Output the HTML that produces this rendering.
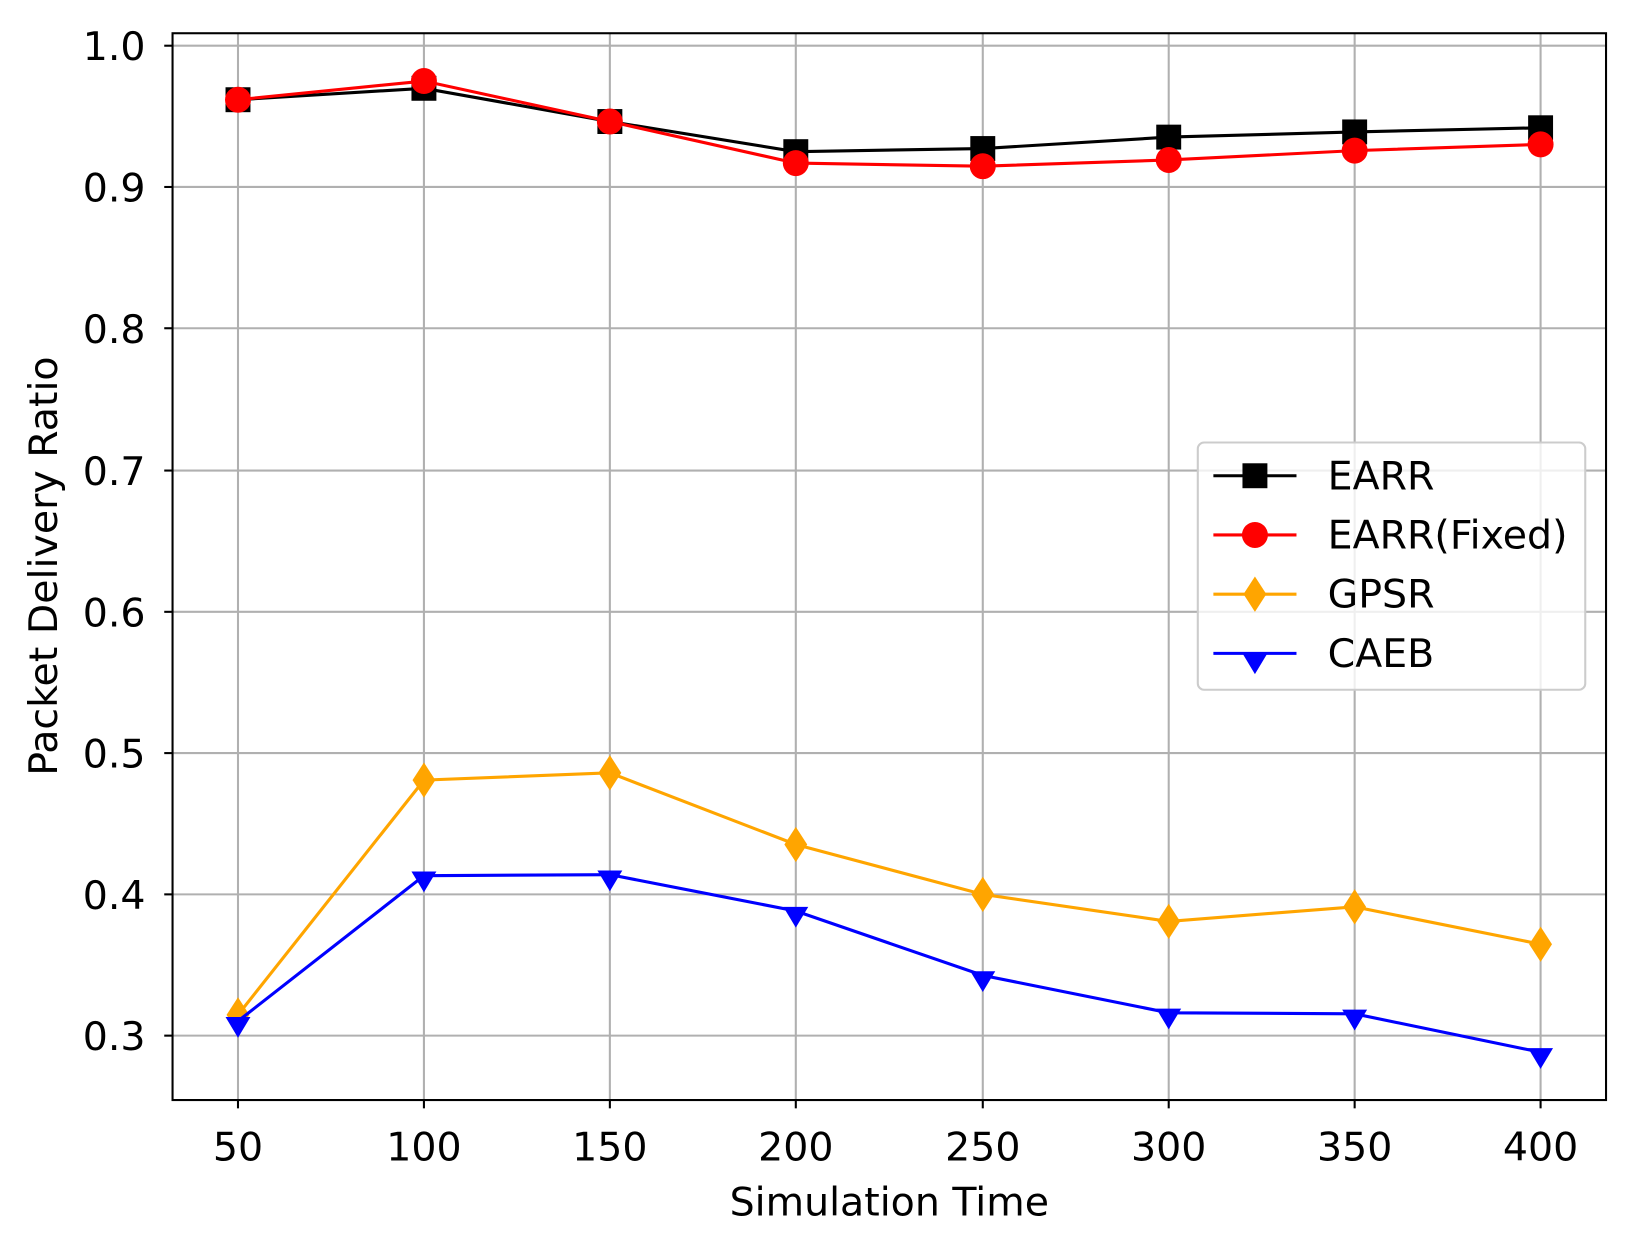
<!DOCTYPE html>
<html><head><style>html,body{margin:0;padding:0;background:#fff}svg{display:block}</style></head>
<body>
<svg width="1629" height="1233" viewBox="0 0 1568 1187" xmlns="http://www.w3.org/2000/svg" font-family="'DejaVu Sans','Liberation Sans',sans-serif">
<rect width="1568" height="1187" fill="#fff"/>
<g stroke="#b0b0b0" stroke-width="2">
<line x1="229" y1="32" x2="229" y2="1059"/><line x1="408" y1="32" x2="408" y2="1059"/><line x1="587" y1="32" x2="587" y2="1059"/><line x1="766" y1="32" x2="766" y2="1059"/><line x1="946" y1="32" x2="946" y2="1059"/><line x1="1125" y1="32" x2="1125" y2="1059"/><line x1="1304" y1="32" x2="1304" y2="1059"/><line x1="1483" y1="32" x2="1483" y2="1059"/>
<line x1="166" y1="44" x2="1546" y2="44"/><line x1="166" y1="180" x2="1546" y2="180"/><line x1="166" y1="316" x2="1546" y2="316"/><line x1="166" y1="453" x2="1546" y2="453"/><line x1="166" y1="589" x2="1546" y2="589"/><line x1="166" y1="725" x2="1546" y2="725"/><line x1="166" y1="861" x2="1546" y2="861"/><line x1="166" y1="997" x2="1546" y2="997"/>
</g>
<rect x="166" y="32" width="1380" height="1027" fill="none" stroke="#000" stroke-width="2"/>
<g stroke="#000" stroke-width="2">
<line x1="229" y1="1059" x2="229" y2="1067"/><line x1="408" y1="1059" x2="408" y2="1067"/><line x1="587" y1="1059" x2="587" y2="1067"/><line x1="766" y1="1059" x2="766" y2="1067"/><line x1="946" y1="1059" x2="946" y2="1067"/><line x1="1125" y1="1059" x2="1125" y2="1067"/><line x1="1304" y1="1059" x2="1304" y2="1067"/><line x1="1483" y1="1059" x2="1483" y2="1067"/>
<line x1="158" y1="44" x2="166" y2="44"/><line x1="158" y1="180" x2="166" y2="180"/><line x1="158" y1="316" x2="166" y2="316"/><line x1="158" y1="453" x2="166" y2="453"/><line x1="158" y1="589" x2="166" y2="589"/><line x1="158" y1="725" x2="166" y2="725"/><line x1="158" y1="861" x2="166" y2="861"/><line x1="158" y1="997" x2="166" y2="997"/>
</g>
<g font-size="38" fill="#000" text-anchor="middle">
<text x="229" y="1117">50</text><text x="408" y="1117">100</text><text x="587" y="1117">150</text><text x="766" y="1117">200</text><text x="946" y="1117">250</text><text x="1125" y="1117">300</text><text x="1304" y="1117">350</text><text x="1483" y="1117">400</text>
<text x="856" y="1170">Simulation Time</text>
<text transform="translate(55,545) rotate(-90)">Packet Delivery Ratio</text>
</g>
<g font-size="38" fill="#000" text-anchor="end">
<text x="140" y="58">1.0</text><text x="140" y="194">0.9</text><text x="140" y="330">0.8</text><text x="140" y="467">0.7</text><text x="140" y="603">0.6</text><text x="140" y="739">0.5</text><text x="140" y="875">0.4</text><text x="140" y="1011">0.3</text>
</g>
<!-- GPSR -->
<polyline fill="none" stroke="#ffa500" stroke-width="3" points="229,977 408,751 587,744 766,813 946,861 1125,887 1304,873 1483,909"/>
<g fill="#ffa500">
<polygon points="229,960 240,977 229,994 218,977"/><polygon points="408,734 419,751 408,768 397,751"/><polygon points="587,727 598,744 587,761 576,744"/><polygon points="766,796 777,813 766,830 755,813"/><polygon points="946,844 957,861 946,878 935,861"/><polygon points="1125,870 1136,887 1125,904 1114,887"/><polygon points="1304,856 1315,873 1304,890 1293,873"/><polygon points="1483,892 1494,909 1483,926 1472,909"/>
</g>
<!-- CAEB -->
<polyline fill="none" stroke="#0000ff" stroke-width="3" points="229,983 408,843 587,842 766,877 946,939 1125,975 1304,976 1483,1013"/>
<g fill="#0000ff">
<polygon points="217,979 241,979 229,999"/><polygon points="396,839 420,839 408,859"/><polygon points="575,838 599,838 587,858"/><polygon points="754,873 778,873 766,893"/><polygon points="934,935 958,935 946,955"/><polygon points="1113,971 1137,971 1125,991"/><polygon points="1292,972 1316,972 1304,992"/><polygon points="1471,1009 1495,1009 1483,1029"/>
</g>
<!-- EARR -->
<polyline fill="none" stroke="#000" stroke-width="3" points="229,96 408,85 587,117 766,146 946,143 1125,132 1304,127 1483,123"/>
<g fill="#000">
<rect x="217" y="84" width="24" height="24"/><rect x="396" y="73" width="24" height="24"/><rect x="575" y="105" width="24" height="24"/><rect x="754" y="134" width="24" height="24"/><rect x="934" y="131" width="24" height="24"/><rect x="1113" y="120" width="24" height="24"/><rect x="1292" y="115" width="24" height="24"/><rect x="1471" y="111" width="24" height="24"/>
</g>
<!-- Fixed -->
<polyline fill="none" stroke="#ff0000" stroke-width="3" points="229,96 408,78 587,117 766,157 946,160 1125,154 1304,145 1483,139"/>
<g fill="#ff0000">
<circle cx="229" cy="96" r="12.5"/><circle cx="408" cy="78" r="12.5"/><circle cx="587" cy="117" r="12.5"/><circle cx="766" cy="157" r="12.5"/><circle cx="946" cy="160" r="12.5"/><circle cx="1125" cy="154" r="12.5"/><circle cx="1304" cy="145" r="12.5"/><circle cx="1483" cy="139" r="12.5"/>
</g>
<!-- legend -->
<rect x="1153" y="426" width="373" height="238" rx="6" fill="#fff" fill-opacity="0.8" stroke="#ccc" stroke-width="2"/>
<line x1="1168" y1="458" x2="1248" y2="458" stroke="#000" stroke-width="3"/><rect x="1196" y="446" width="24" height="24" fill="#000"/>
<line x1="1168" y1="515" x2="1248" y2="515" stroke="#ff0000" stroke-width="3"/><circle cx="1208" cy="515" r="12.5" fill="#ff0000"/>
<line x1="1168" y1="572" x2="1248" y2="572" stroke="#ffa500" stroke-width="3"/><polygon points="1208,555 1219,572 1208,589 1197,572" fill="#ffa500"/>
<line x1="1168" y1="629" x2="1248" y2="629" stroke="#0000ff" stroke-width="3"/><polygon points="1196,629 1220,629 1208,649" fill="#0000ff"/>
<g font-size="38" fill="#000">
<text x="1278" y="471">EARR</text><text x="1278" y="528">EARR(Fixed)</text><text x="1278" y="585">GPSR</text><text x="1278" y="642">CAEB</text>
</g>
</svg>
</body></html>
